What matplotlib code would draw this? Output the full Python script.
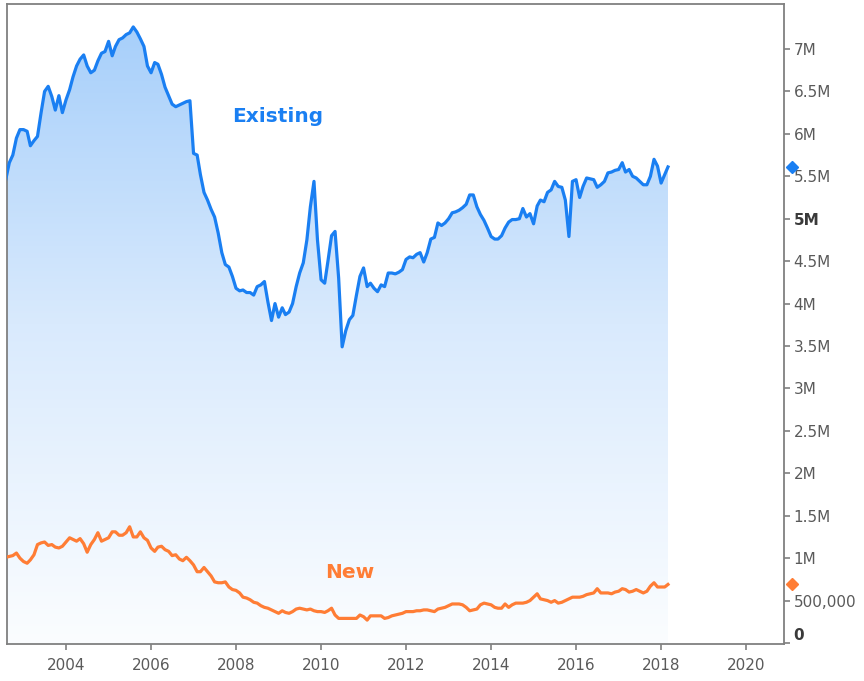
import numpy as np
import pandas as pd
import matplotlib
matplotlib.use('Agg')
import matplotlib.pyplot as plt
import matplotlib.dates as mdates
from matplotlib.colors import LinearSegmentedColormap

plt.rcParams.update({'font.family': 'DejaVu Sans', 'font.size': 11})

# monthly sales, seasonally adjusted annual rate, millions (Aug 2002 - Mar 2018)
existing = [
    5.46, 5.66, 5.75, 5.95, 6.05,                                          # 2002
    6.05, 6.03, 5.86, 5.92, 5.97, 6.25, 6.50, 6.56, 6.44, 6.28, 6.45, 6.25,  # 2003
    6.40, 6.52, 6.67, 6.80, 6.88, 6.93, 6.80, 6.72, 6.75, 6.86, 6.95, 6.97,  # 2004
    7.09, 6.92, 7.03, 7.11, 7.13, 7.17, 7.19, 7.26, 7.20, 7.12, 7.03, 6.80,  # 2005
    6.72, 6.84, 6.82, 6.70, 6.55, 6.45, 6.35, 6.32, 6.34, 6.36, 6.38, 6.39,  # 2006
    5.77, 5.75, 5.52, 5.31, 5.22, 5.11, 5.02, 4.83, 4.60, 4.46, 4.43, 4.32,  # 2007
    4.18, 4.15, 4.16, 4.13, 4.13, 4.10, 4.20, 4.22, 4.26, 4.02, 3.80, 4.00,  # 2008
    3.84, 3.95, 3.87, 3.90, 4.00, 4.20, 4.36, 4.48, 4.75, 5.14, 5.44, 4.75,  # 2009
    4.28, 4.24, 4.50, 4.80, 4.85, 4.30, 3.49, 3.68, 3.81, 3.86, 4.10, 4.32,  # 2010
    4.42, 4.20, 4.24, 4.18, 4.14, 4.22, 4.20, 4.36, 4.36, 4.35, 4.37, 4.40,  # 2011
    4.52, 4.55, 4.54, 4.58, 4.60, 4.49, 4.60, 4.76, 4.78, 4.95, 4.92, 4.95,  # 2012
    5.00, 5.07, 5.08, 5.10, 5.13, 5.17, 5.28, 5.28, 5.14, 5.05, 4.98, 4.89,  # 2013
    4.79, 4.76, 4.76, 4.80, 4.89, 4.96, 4.99, 4.99, 5.00, 5.12, 5.02, 5.06,  # 2014
    4.94, 5.15, 5.22, 5.20, 5.31, 5.34, 5.44, 5.38, 5.37, 5.22, 4.79, 5.44,  # 2015
    5.46, 5.25, 5.38, 5.48, 5.47, 5.46, 5.37, 5.40, 5.44, 5.54, 5.55, 5.57,  # 2016
    5.58, 5.66, 5.55, 5.58, 5.50, 5.48, 5.44, 5.40, 5.40, 5.50, 5.70, 5.62,  # 2017
    5.42, 5.52, 5.61,                                                       # 2018
]
new = [
    1.01, 1.02, 1.03, 1.06, 1.00,
    0.96, 0.94, 0.98, 1.04, 1.16, 1.18, 1.19, 1.15, 1.16, 1.13, 1.12, 1.14,
    1.19, 1.24, 1.22, 1.20, 1.23, 1.17, 1.07, 1.16, 1.22, 1.30, 1.20, 1.22,
    1.24, 1.31, 1.31, 1.27, 1.27, 1.30, 1.37, 1.25, 1.25, 1.31, 1.24, 1.21,
    1.12, 1.08, 1.13, 1.14, 1.10, 1.08, 1.03, 1.04, 0.99, 0.97, 1.01, 0.97,
    0.92, 0.84, 0.84, 0.89, 0.84, 0.79, 0.72, 0.71, 0.71, 0.72, 0.66, 0.63,
    0.62, 0.59, 0.54, 0.53, 0.51, 0.48, 0.47, 0.44, 0.42, 0.41, 0.39, 0.37,
    0.35, 0.38, 0.36, 0.35, 0.37, 0.40, 0.41, 0.40, 0.39, 0.40, 0.38, 0.37,
    0.37, 0.36, 0.38, 0.41, 0.33, 0.29, 0.29, 0.29, 0.29, 0.29, 0.29, 0.33,
    0.31, 0.27, 0.32, 0.32, 0.32, 0.32, 0.29, 0.30, 0.32, 0.33, 0.34, 0.35,
    0.37, 0.37, 0.37, 0.38, 0.38, 0.39, 0.39, 0.38, 0.37, 0.40, 0.41, 0.42,
    0.44, 0.46, 0.46, 0.46, 0.45, 0.42, 0.38, 0.39, 0.40, 0.45, 0.47, 0.46,
    0.45, 0.42, 0.41, 0.41, 0.46, 0.42, 0.45, 0.47, 0.47, 0.47, 0.48, 0.50,
    0.54, 0.58, 0.52, 0.51, 0.50, 0.48, 0.50, 0.47, 0.48, 0.50, 0.52, 0.54,
    0.54, 0.54, 0.55, 0.57, 0.58, 0.59, 0.64, 0.59, 0.59, 0.59, 0.58, 0.60,
    0.61, 0.64, 0.63, 0.60, 0.61, 0.63, 0.61, 0.59, 0.61, 0.67, 0.71, 0.66,
    0.66, 0.66, 0.69,
]
dates = pd.date_range('2002-08-01', periods=len(existing), freq='MS')
existing = np.array(existing) * 1e6
new = np.array(new) * 1e6

ytick_vals = [0, 0.5e6, 1e6, 1.5e6, 2e6, 2.5e6, 3e6, 3.5e6, 4e6, 4.5e6, 5e6, 5.5e6, 6e6, 6.5e6, 7e6]
ytick_labels = ['0', '500,000', '1M', '1.5M', '2M', '2.5M', '3M', '3.5M', '4M',
                '4.5M', '5M', '5.5M', '6M', '6.5M', '7M']
xtick_years = [2004, 2006, 2008, 2010, 2012, 2014, 2016, 2018, 2020]

blue = '#1a7ff2'
orange = '#ff7d35'
gray = '#808080'

fig = plt.figure(figsize=(8.64, 6.81), dpi=100)
ax = fig.add_axes([0.0081, 0.0543, 0.8993, 0.9398])

xlim = (pd.Timestamp('2002-08-12'), pd.Timestamp('2020-11-22'))
ylim = (-0.012e6, 7.53e6)
ax.set_xlim(xlim)
ax.set_ylim(ylim)

# gradient fill under the existing line
poly = ax.fill_between(dates, existing, ylim[0], color='none')
cmap = LinearSegmentedColormap.from_list('fade', ['#fbfdff', '#d9eafd', '#a3cdfa'])
grad = np.linspace(0, 1, 256).reshape(-1, 1)
x0, x1 = mdates.date2num(xlim[0]), mdates.date2num(xlim[1])
im = ax.imshow(grad, cmap=cmap, aspect='auto', origin='lower',
               extent=[x0, x1, ylim[0], ylim[1]], zorder=1)
path = poly.get_paths()[0]
im.set_clip_path(path, transform=ax.transData)
ax.set_xlim(xlim)
ax.set_ylim(ylim)

ax.plot(dates, existing, color=blue, lw=2.3, zorder=3)
ax.plot(dates, new, color=orange, lw=2.3, zorder=3)

ax.text(pd.Timestamp('2008-12-28'), 6.21e6, 'Existing', color=blue, fontsize=14.5,
        fontweight='bold', ha='center', va='center')
ax.text(pd.Timestamp('2010-09-05'), 0.825e6, 'New', color=orange, fontsize=14.5,
        fontweight='bold', ha='center', va='center')

# last-value markers on the right axis
trans = ax.get_yaxis_transform()
ax.plot([1.0103], [existing[-1]], marker='D', color=blue, ms=6.5, transform=trans, clip_on=False)
ax.plot([1.0103], [new[-1]], marker='D', color=orange, ms=6.5, transform=trans, clip_on=False)

ax.yaxis.tick_right()
ax.set_yticks(ytick_vals)
ax.set_yticklabels(ytick_labels)
ax.set_xticks([pd.Timestamp(f'{y}-01-01') for y in xtick_years])
ax.set_xticklabels([str(y) for y in xtick_years])
ax.tick_params(axis='both', colors=gray, labelcolor='#5a5a5a', length=4, width=1.2,
               labelsize=11)
ax.tick_params(axis='y', pad=3)
ax.tick_params(axis='x', pad=6)
for lab in ax.get_yticklabels():
    if lab.get_text() in ('5M', '0'):
        lab.set_fontweight('bold')
        lab.set_color('#3a3a3a')
    if lab.get_text() == '0':
        lab.set_verticalalignment('bottom')

for s in ax.spines.values():
    s.set_color(gray)
    s.set_linewidth(1.3)

fig.savefig('out.png', dpi=100)
